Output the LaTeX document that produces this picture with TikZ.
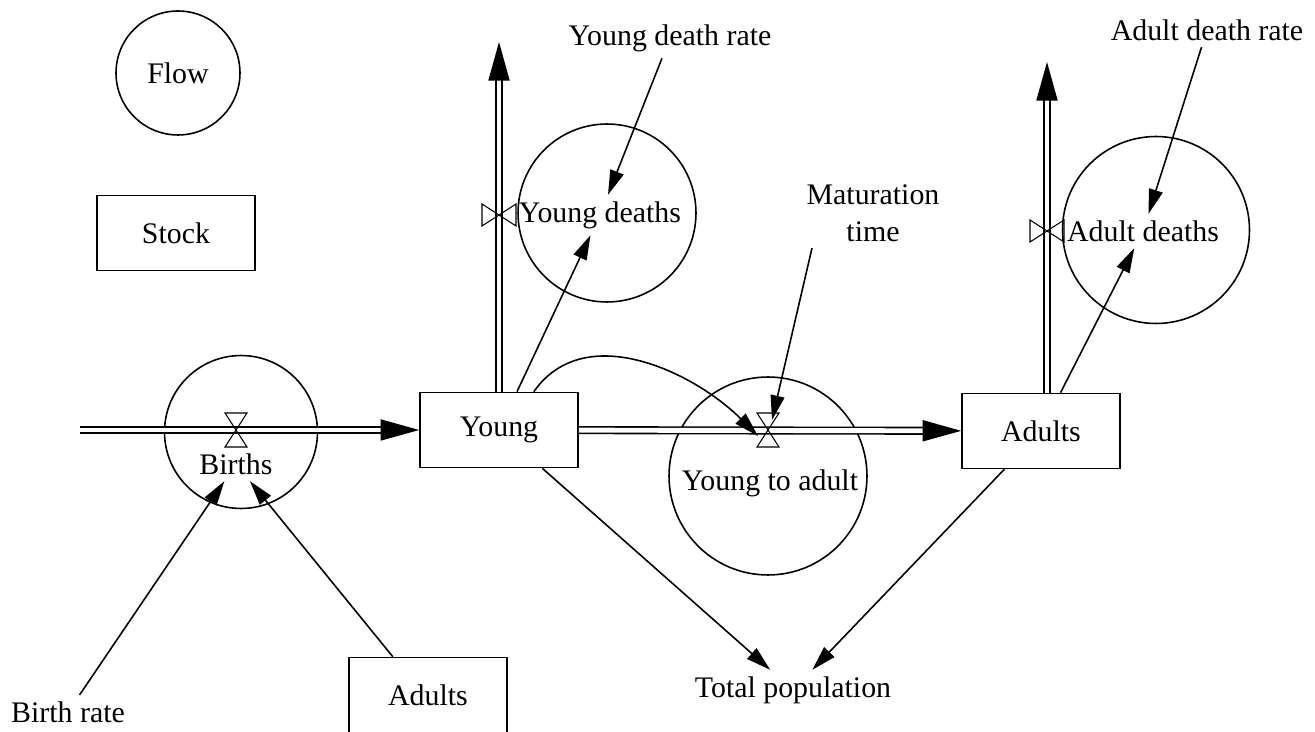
\documentclass[tikz,border=0pt]{standalone}
\usepackage{fontspec}
\setmainfont{Liberation Serif}
\usetikzlibrary{arrows.meta,positioning,calc}

\begin{document}
\begin{tikzpicture}[x=0.02cm, y=-0.02cm, line width=0.9pt, font=\fontsize{17}{20}\selectfont,
    stock/.style={draw, rectangle, minimum width=3.16cm, minimum height=1.5cm},
    flowc/.style={draw, circle, inner sep=0pt},
    pipe/.style={double, double distance=2.8pt, -{Triangle[length=22pt, width=12pt]}},
    link/.style={-{Triangle[length=14pt, width=8pt]}},
    valve/.pic={\draw[line width=0.6pt] (-11,-17) -- (11,-17) -- (-11,17) -- (11,17) -- cycle;}]
    \useasboundingbox (0,0) rectangle (1315,732);

    % legend
    \node (flow) [flowc, minimum size=2.48cm] at (178,73) {Flow};
    \node (stock) [stock] at (176,233) {Stock};

    % stocks
    \node (young) [stock] at (499,430) {Young};
    \node (adults) [stock] at (1041,431) {Adults};
    \node (adultsb) [stock, minimum height=1.7cm] at (428,700) {\raisebox{6pt}{Adults}};

    % flows
    \node (birthsc) [flowc, minimum size=3.06cm] at (241,432) {};
    \node (births) at (236,464) {Births};
    \node (ydc) [flowc, minimum size=3.56cm] at (607,213) {};
    \node (ydeaths) at (600,215) {Young deaths};
    \node (ytac) [flowc, minimum size=3.96cm] at (768,476) {};
    \node (ytoa) at (770,483) {Young to adult};
    \node (adc) [flowc, minimum size=3.74cm] at (1156,230) {};
    \node (adeaths) at (1143,231) {Adult deaths};

    % parameters
    \node (yrate) at (670,38) {Young death rate};
    \node (arate) at (1207,30) {Adult death rate};
    \node (mattime) [align=center] at (873,213) {Maturation\\[1pt]time};
    \node (brate) at (68,712) {Birth rate};
    \node (total) at (793,690) {Total population};

    \coordinate (src) at (80,430);
    \coordinate (ysink) at (499,42);
    \coordinate (asink) at (1047,62);
    \coordinate (bvalve) at (236,430);
    \coordinate (tvalve) at (768,430);
    \coordinate (yvalve) at (499,215);
    \coordinate (avalve) at (1047,231);

    % pipes
    \draw[pipe] (src) -- (young);
    \draw[pipe] (young) -- (adults);
    \draw[pipe] (young) -- (ysink);
    \draw[pipe] (adults.north -| asink) -- (asink);

    \pic at (bvalve) {valve};
    \pic at (tvalve) {valve};
    \pic[rotate=90] at (yvalve) {valve};
    \pic[rotate=90] at (avalve) {valve};

    % links
    \draw[link] (brate) -- (births);
    \draw[link] (adultsb) -- (births);
    \draw[link] (young) -- (ydeaths);
    \draw[link] (yrate) -- (ydeaths);
    \draw[link] (adults) -- (adeaths);
    \draw[link] (arate) -- (adeaths);
    \draw[link] ([xshift=0.24cm]mattime.south west) -- ([shift={(4,-10)}]tvalve);
    \draw[link] ([xshift=-0.9cm]young.north east) to[out=55, in=135] ([shift={(-10,6)}]tvalve);
    \draw[link] (young) -- (total);
    \draw[link] (adults) -- (total);
\end{tikzpicture}
\end{document}
